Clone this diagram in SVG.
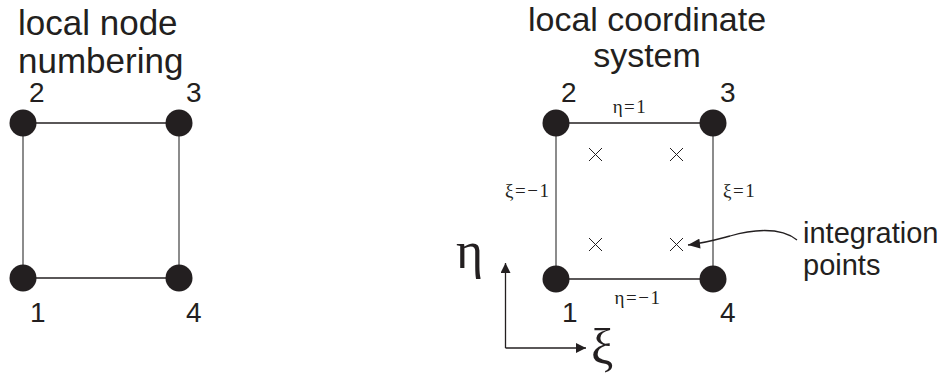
<svg xmlns="http://www.w3.org/2000/svg" width="945" height="379" viewBox="0 0 945 379">
<defs>
<style>
.t{font-family:"Liberation Sans",Arial,sans-serif;fill:#231f20}
.title{font-size:35px}
.num{font-size:28px}
.lab{font-family:"Liberation Serif","Times New Roman",serif;font-size:19px;fill:#231f20;letter-spacing:1.5px}
.big{font-family:"Liberation Serif","Times New Roman",serif;font-size:52px;fill:#231f20}
.node{fill:#231f20}
.h{stroke:#231f20;stroke-width:1.5;fill:none}
.v{stroke:#666;stroke-width:1.5;fill:none}
.x{stroke:#231f20;stroke-width:1;fill:none}
.ax{stroke:#231f20;stroke-width:1.3;fill:none}
</style>
<marker id="ah" viewBox="0 0 10 10" refX="10" refY="5" markerWidth="10" markerHeight="10" markerUnits="userSpaceOnUse" orient="auto">
<path d="M0,0 L10,5 L0,10 z" fill="#231f20"/>
</marker>
<marker id="ah2" viewBox="0 0 12 10" refX="12" refY="5" markerWidth="13" markerHeight="10" markerUnits="userSpaceOnUse" orient="auto">
<path d="M0,0 L12,5 L0,10 z" fill="#231f20"/>
</marker>
</defs>
<rect width="945" height="379" fill="#fff"/>

<text class="t title" x="18" y="35">local node</text>
<text class="t title" x="18" y="73">numbering</text>
<text class="t" x="647" y="31" text-anchor="middle" style="font-size:34px">local coordinate</text>
<text class="t" x="647" y="67" text-anchor="middle" style="font-size:34px">system</text>

<g id="connectors">
<line class="h" x1="23" y1="123" x2="179" y2="123"/>
<line class="h" x1="23" y1="278" x2="179" y2="278"/>
<line class="v" x1="23" y1="123" x2="23" y2="278"/>
<line class="v" x1="179" y1="123" x2="179" y2="278"/>
<line class="h" x1="556" y1="123" x2="713" y2="123"/>
<line class="h" x1="556" y1="279" x2="713" y2="279"/>
<line class="v" x1="556" y1="123" x2="556" y2="279"/>
<line class="v" x1="713" y1="123" x2="713" y2="279"/>
<path class="ax" d="M797,240 C780,226 750,230 730,236 C715,240 705,243 688,245" marker-end="url(#ah2)"/>
<path class="ax" d="M505.5,348 L505.5,263" marker-end="url(#ah)"/>
<path class="ax" d="M505.5,348 L586,348" marker-end="url(#ah)"/>
</g>

<g id="n1L"><circle class="node" cx="23" cy="278" r="13.5"/><text class="t num" x="30" y="322">1</text></g>
<g id="n2L"><circle class="node" cx="23" cy="123" r="13.5"/><text class="t num" x="29" y="102">2</text></g>
<g id="n3L"><circle class="node" cx="179" cy="123" r="13.5"/><text class="t num" x="186" y="102">3</text></g>
<g id="n4L"><circle class="node" cx="179" cy="278" r="13.5"/><text class="t num" x="186" y="322">4</text></g>

<g id="n1R"><circle class="node" cx="556" cy="279" r="13.5"/><text class="t num" x="562" y="322">1</text></g>
<g id="n2R"><circle class="node" cx="556" cy="123" r="13.5"/><text class="t num" x="561" y="102">2</text></g>
<g id="n3R"><circle class="node" cx="713" cy="123" r="13.5"/><text class="t num" x="720" y="102">3</text></g>
<g id="n4R"><circle class="node" cx="713" cy="279" r="13.5"/><text class="t num" x="720" y="322">4</text></g>

<g id="edge-labels">
<text class="lab" x="630" y="113" text-anchor="middle">η=1</text>
<text class="lab" x="638" y="304" text-anchor="middle">η=−1</text>
<text class="lab" x="505" y="197">ξ=−1</text>
<text class="lab" x="723" y="197">ξ=1</text>
</g>

<g id="integration-points">
<path class="x" d="M589,148 L602,161 M602,148 L589,161"/>
<path class="x" d="M670,148 L683,161 M683,148 L670,161"/>
<path class="x" d="M589,238 L602,251 M602,238 L589,251"/>
<path class="x" d="M670,238 L683,251 M683,238 L670,251"/>
</g>

<g id="integration-label">
<text class="t" x="803" y="243" style="font-size:29px">integration</text>
<text class="t" x="803" y="275" style="font-size:29px">points</text>
</g>

<g id="axes-labels">
<text class="big" x="456" y="268">η</text>
<text class="big" x="591" y="364" style="font-size:50px">ξ</text>
</g>
</svg>
